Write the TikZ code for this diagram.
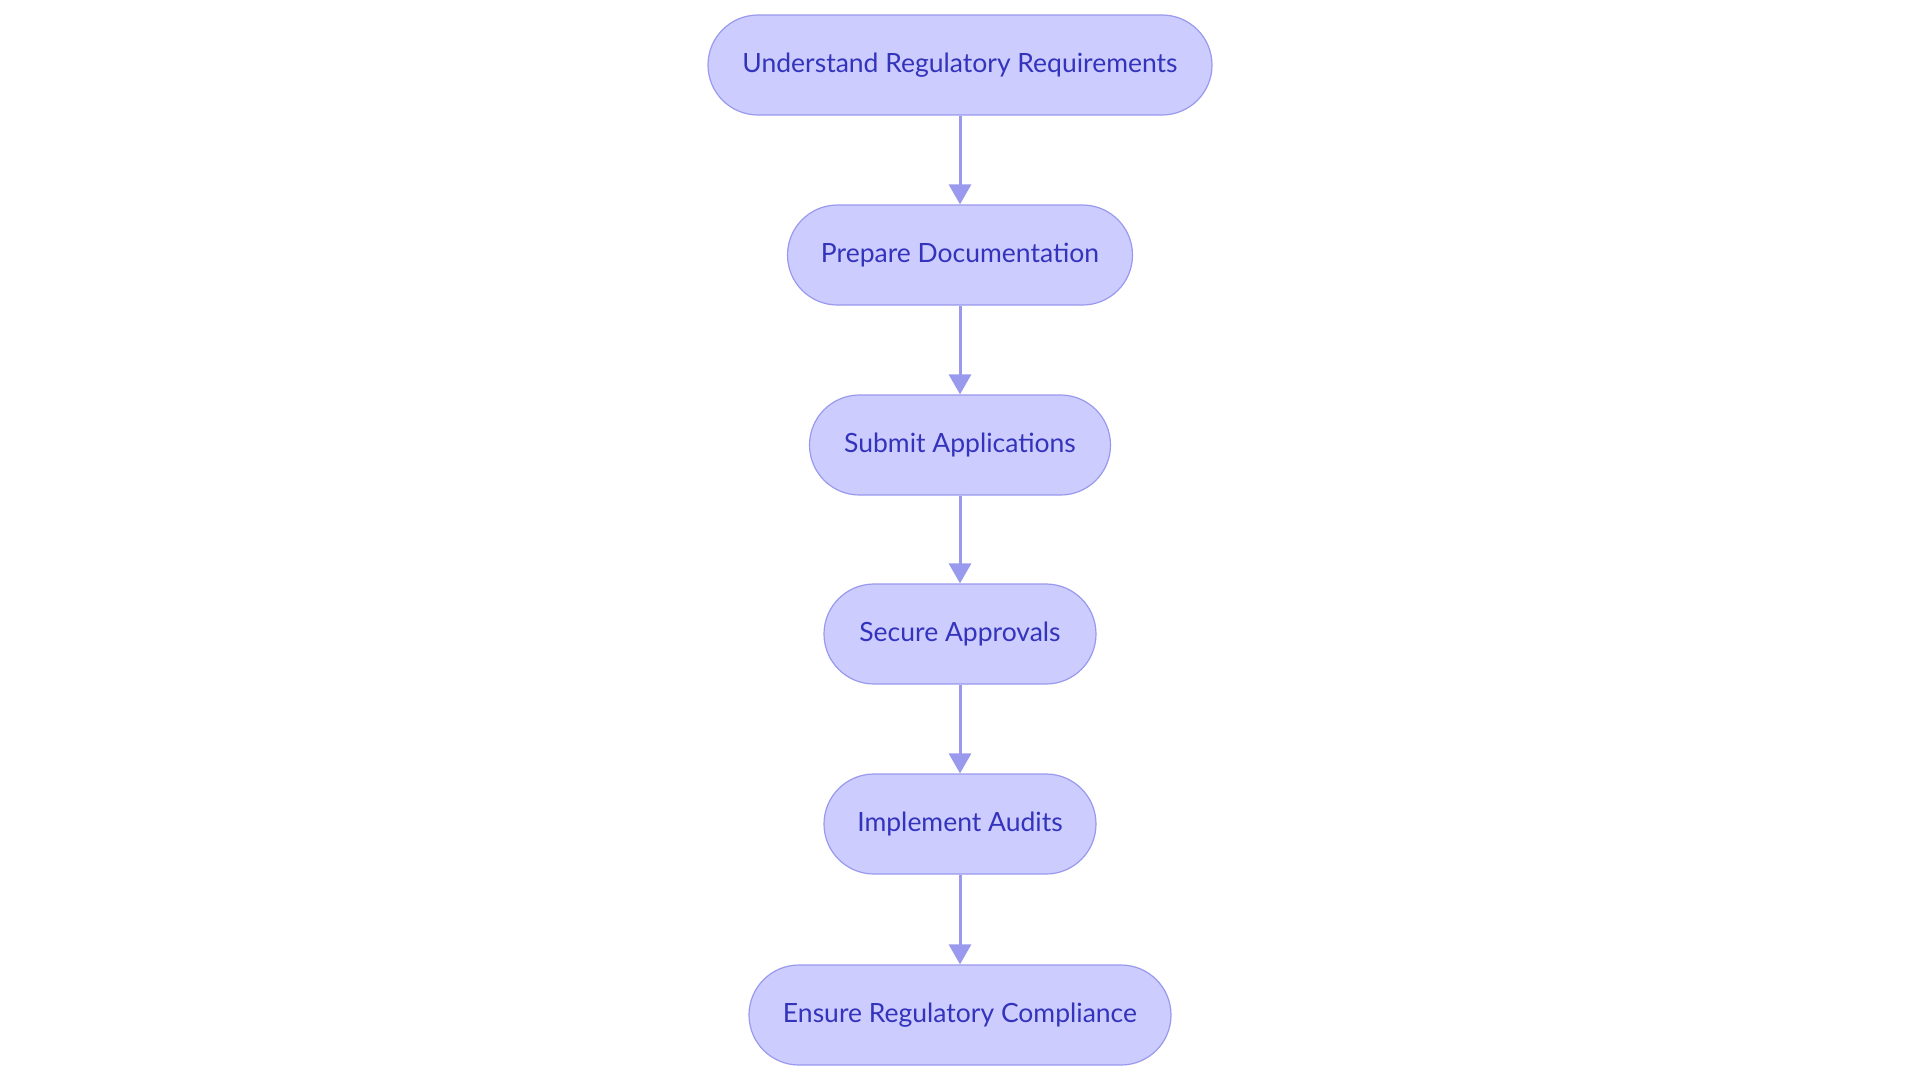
\documentclass[tikz,border=0pt]{standalone}
\usepackage{fontspec}
\setmainfont{Lato}
\usetikzlibrary{arrows.meta}
\definecolor{fillc}{HTML}{CCCCFF}
\definecolor{linec}{HTML}{9999EE}
\definecolor{textc}{HTML}{3333BB}
\begin{document}
\begin{tikzpicture}[x=1pt,y=-1pt,
  box/.style={draw=linec,line width=1.2pt,fill=fillc,rounded corners=50pt,minimum height=100pt,text=textc,font=\fontsize{26.5}{30}\selectfont,inner sep=0pt},
  arr/.style={draw=linec,line width=3pt,-{Triangle[length=20pt,width=22pt]}}]
\useasboundingbox (0,0) rectangle (1920,1080);
\node[box,minimum width=504pt] (a) at (960,65) {Understand Regulatory Requirements};
\node[box,minimum width=345pt] (b) at (960,255) {Prepare Documentation};
\node[box,minimum width=301pt] (c) at (960,445) {Submit Applications};
\node[box,minimum width=272pt] (d) at (960,634) {Secure Approvals};
\node[box,minimum width=272pt] (e) at (960,824) {Implement Audits};
\node[box,minimum width=422pt] (f) at (960,1015) {Ensure Regulatory Compliance};
\draw[arr] (a) -- (b);
\draw[arr] (b) -- (c);
\draw[arr] (c) -- (d);
\draw[arr] (d) -- (e);
\draw[arr] (e) -- (f);
\end{tikzpicture}
\end{document}
